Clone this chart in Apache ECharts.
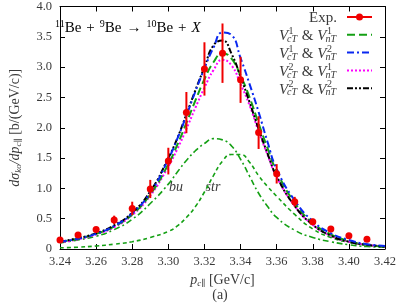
<!DOCTYPE html>
<html><head><meta charset="utf-8">
<script src="https://cdn.jsdelivr.net/npm/echarts@6/dist/echarts.min.js"></script>
<style>html,body{margin:0;padding:0;background:#fff}#c{width:399px;height:304px}</style>
</head><body><div id="c"></div>
<script>
// ---- data ----
const xTickLabels = ['3.24','3.26','3.28','3.30','3.32','3.34','3.36','3.38','3.40','3.42'];
const yTickLabels = ['0','0.5','1.0','1.5','2.0','2.5','3.0','3.5','4.0'];
const legendPot = [['1','1'], ['1','2'], ['2','1'], ['2','2']]; // (V_cT, V_nT) superscripts

const expP   = [3.24,3.25,3.26,3.27,3.28,3.29,3.30,3.31,3.32,3.33,3.34,3.35,3.36,3.37,3.38,3.39,3.40,3.41];
const expVal = [0.15,0.23,0.32,0.48,0.67,0.99,1.45,2.25,2.97,3.23,2.79,1.92,1.24,0.78,0.45,0.33,0.22,0.16];
const expErr = [0.02,0.02,0.03,0.07,0.11,0.15,0.22,0.34,0.44,0.49,0.38,0.27,0.16,0.08,0.05,0.03,0.02,0.02];

const pGrid = [3.24,3.25,3.26,3.27,3.28,3.29,3.30,3.305,3.31,3.315,3.32,3.325,3.33,3.335,3.34,3.345,3.35,3.355,3.36,3.37,3.38,3.39,3.40,3.41,3.42];
const v11 = [0.12,0.17,0.25,0.37,0.57,0.90,1.40,1.72,2.08,2.45,2.80,3.08,3.23,3.14,2.86,2.50,2.07,1.66,1.28,0.76,0.43,0.24,0.13,0.07,0.04];
const v12 = [0.12,0.17,0.25,0.38,0.59,0.93,1.48,1.82,2.20,2.60,2.98,3.32,3.57,3.53,3.15,2.72,2.26,1.76,1.32,0.80,0.46,0.26,0.15,0.08,0.05];
const v21 = [0.11,0.16,0.24,0.36,0.56,0.88,1.36,1.65,1.98,2.33,2.66,2.95,3.12,3.03,2.72,2.37,1.94,1.55,1.19,0.71,0.40,0.22,0.12,0.07,0.04];
const v22 = [0.12,0.18,0.26,0.39,0.60,0.95,1.50,1.83,2.22,2.62,3.00,3.36,3.44,3.22,2.84,2.42,1.98,1.57,1.20,0.71,0.40,0.22,0.12,0.07,0.04];
const buVal  = [0.10,0.15,0.21,0.32,0.49,0.75,1.07,1.27,1.46,1.62,1.74,1.82,1.80,1.70,1.48,1.20,0.92,0.70,0.52,0.31,0.19,0.12,0.07,0.04,0.03];
const strVal = [0.02,0.03,0.05,0.08,0.12,0.19,0.29,0.38,0.52,0.70,0.94,1.21,1.45,1.56,1.56,1.43,1.21,1.03,0.87,0.57,0.33,0.19,0.11,0.06,0.04];

// ---- styles ----
const FF = "'Liberation Serif','DejaVu Serif',serif";
const TXT = '#3a3a3a';
const RED = '#f00000', GREEN = '#14a014', BLUE = '#0a28f0', MAG = '#ff00ff', BLK = '#000000';
const DASH = {v11: [8, 4], v12: [7, 3, 2, 3], v21: [2, 2], v22: [6, 2, 2, 2, 2, 2], bu: [6, 3, 2, 3], str: [4, 3]};
const lineColors = [GREEN, BLUE, MAG, BLK];
const lineDashes = [DASH.v11, DASH.v12, DASH.v21, DASH.v22];

const pair = (ys) => pGrid.map((x, i) => [x, ys[i]]);

// ---- legend built as text + sample strokes ----
const mctx = document.createElement('canvas').getContext('2d');
function tw(t, size, italic) { mctx.font = (italic ? 'italic ' : '') + size + 'px ' + FF; return mctx.measureText(t).width; }
const LG_RIGHT = 337, LG_X1 = 347, LG_X2 = 372, LG_Y0 = 17, LG_DY = 17.8;
const VS = 15, SS = 10;
const legendGraphics = [];
function addText(t, x, y, size, italic) {
  legendGraphics.push({type: 'text', x: x, y: y, silent: true, z: 100,
    style: {text: t, fontFamily: FF, fontSize: size, fontStyle: italic ? 'italic' : 'normal', fill: TXT, align: 'left', verticalAlign: 'middle'}});
}
// Exp. row
addText('Exp.', LG_RIGHT - tw('Exp.', VS, false), LG_Y0 + 1, VS, false);
legendGraphics.push({type: 'line', silent: true, z: 100, shape: {x1: LG_X1, y1: LG_Y0, x2: LG_X2, y2: LG_Y0}, style: {stroke: RED, lineWidth: 2}});
legendGraphics.push({type: 'circle', silent: true, z: 101, shape: {cx: (LG_X1 + LG_X2) / 2, cy: LG_Y0, r: 3.5}, style: {fill: RED}});
legendPot.forEach((p, i) => {
  const yc = LG_Y0 + (i + 1) * LG_DY;
  const wV = tw('V', VS, true), wA = tw(' & ', VS, false);
  const b1 = Math.max(tw(p[0], SS, false), tw('cT', SS, true));
  const b2 = Math.max(tw(p[1], SS, false), tw('nT', SS, true));
  let x = LG_RIGHT - (wV + b1 + wA + wV + b2);
  addText('V', x, yc + 1.5, VS, true); x += wV;
  addText(p[0], x + 0.5, yc - 3.5, SS, false); addText('cT', x - 1, yc + 4.5, SS, true); x += b1;
  addText(' & ', x, yc + 1.5, VS, false); x += wA;
  addText('V', x, yc + 1.5, VS, true); x += wV;
  addText(p[1], x + 0.5, yc - 3.5, SS, false); addText('nT', x - 1, yc + 4.5, SS, true);
  legendGraphics.push({type: 'line', silent: true, z: 100, shape: {x1: LG_X1, y1: yc, x2: LG_X2, y2: yc},
    style: {stroke: lineColors[i], lineWidth: 2, lineDash: lineDashes[i]}});
});

const chart = echarts.init(document.getElementById('c'), null, {renderer: 'canvas'});

const axisCommon = {
  axisLine: {show: true, onZero: false, lineStyle: {color: '#000', width: 1}},
  axisTick: {show: true, inside: true, length: 5, lineStyle: {color: '#000'}},
  splitLine: {show: false}
};
const nameRich = {
  i: {fontFamily: FF, fontStyle: 'italic', fontSize: 14, color: TXT, lineHeight: 16},
  s: {fontFamily: FF, fontStyle: 'italic', fontSize: 9, color: TXT, verticalAlign: 'bottom', lineHeight: 10},
  t: {fontFamily: FF, fontSize: 14, color: TXT, lineHeight: 16}
};

chart.setOption({
  animation: false,
  backgroundColor: '#fff',
  grid: {left: 54, right: 14, top: 5, bottom: 55, containLabel: false},
  xAxis: [
    Object.assign({
      type: 'value', min: 3.24, max: 3.42, interval: 0.02, position: 'bottom',
      axisLabel: {fontFamily: FF, fontSize: 12.5, color: TXT, margin: 6,
        formatter: (v) => xTickLabels[Math.round((v - 3.24) / 0.02)]},
      name: '{i|p}{s|c∥}{t| [GeV/c]}', nameLocation: 'middle', nameGap: 21,
      nameTextStyle: {rich: nameRich}
    }, axisCommon),
    Object.assign({type: 'value', min: 3.24, max: 3.42, interval: 0.02, position: 'top', axisLabel: {show: false}}, axisCommon)
  ],
  yAxis: [
    Object.assign({
      type: 'value', min: 0, max: 4, interval: 0.5, position: 'left',
      axisLabel: {fontFamily: FF, fontSize: 12.5, color: TXT, margin: 8,
        formatter: (v) => yTickLabels[Math.round(v / 0.5)]},
      name: '{i|dσ}{s|ko}{i|/dp}{s|c∥}{t| [b/(GeV/c)]}', nameLocation: 'middle', nameGap: 37, nameRotate: 90,
      nameTextStyle: {rich: nameRich}
    }, axisCommon),
    Object.assign({type: 'value', min: 0, max: 4, interval: 0.5, position: 'right', axisLabel: {show: false}}, axisCommon)
  ],
  graphic: legendGraphics.concat([
    {type: 'text', left: 55, top: 19, silent: true, style: {
      text: '{s|11}{t|Be}{o|+}{s|9}{t|Be}{o|→}{s|10}{t|Be}{o|+}{i|X}',
      rich: {
        s: {fontFamily: FF, fontSize: 10, color: TXT, verticalAlign: 'top', lineHeight: 10},
        t: {fontFamily: FF, fontSize: 15, color: TXT, lineHeight: 18},
        o: {fontFamily: FF, fontSize: 15, color: TXT, lineHeight: 18, padding: [0, 5, 0, 5]},
        i: {fontFamily: FF, fontSize: 15, fontStyle: 'italic', color: TXT, lineHeight: 18}
      }}},
    {type: 'text', x: 176, y: 187, silent: true, style: {text: 'bu', fontFamily: FF, fontStyle: 'italic', fontSize: 14, fill: TXT, align: 'center', verticalAlign: 'middle'}},
    {type: 'text', x: 213, y: 187, silent: true, style: {text: 'str', fontFamily: FF, fontStyle: 'italic', fontSize: 14, fill: TXT, align: 'center', verticalAlign: 'middle'}},
    {type: 'text', x: 220, y: 295, silent: true, style: {text: '(a)', fontFamily: FF, fontSize: 14, fill: TXT, align: 'center', verticalAlign: 'middle'}}
  ]),
  series: [
    {name: 'bu', type: 'line', data: pair(buVal), smooth: true, symbol: 'none',
     lineStyle: {color: GREEN, width: 1.6, type: DASH.bu}, z: 2},
    {name: 'str', type: 'line', data: pair(strVal), smooth: true, symbol: 'none',
     lineStyle: {color: GREEN, width: 1.6, type: DASH.str}, z: 2},
    {name: 'V2cT & V1nT', type: 'line', data: pair(v21), smooth: true, symbol: 'none',
     lineStyle: {color: MAG, width: 2, type: DASH.v21}, z: 3},
    {name: 'V1cT & V1nT', type: 'line', data: pair(v11), smooth: true, symbol: 'none',
     lineStyle: {color: GREEN, width: 2, type: DASH.v11}, z: 3},
    {name: 'V2cT & V2nT', type: 'line', data: pair(v22), smooth: true, symbol: 'none',
     lineStyle: {color: BLK, width: 2, type: DASH.v22}, z: 3},
    {name: 'V1cT & V2nT', type: 'line', data: pair(v12), smooth: true, symbol: 'none',
     lineStyle: {color: BLUE, width: 2, type: DASH.v12}, z: 3},
    {name: 'errbar', type: 'custom', silent: true, z: 5,
     data: expP.map((x, i) => [x, expVal[i] - expErr[i], expVal[i] + expErr[i]]),
     renderItem: function (params, api) {
       const a = api.coord([api.value(0), api.value(1)]);
       const b = api.coord([api.value(0), api.value(2)]);
       return {type: 'line', shape: {x1: a[0], y1: a[1], x2: b[0], y2: b[1]}, style: {stroke: RED, lineWidth: 2}};
     }},
    {name: 'Exp.', type: 'scatter', data: expP.map((x, i) => [x, expVal[i]]),
     symbol: 'circle', symbolSize: 7, itemStyle: {color: RED, opacity: 1}, z: 6}
  ]
});
</script></body></html>
